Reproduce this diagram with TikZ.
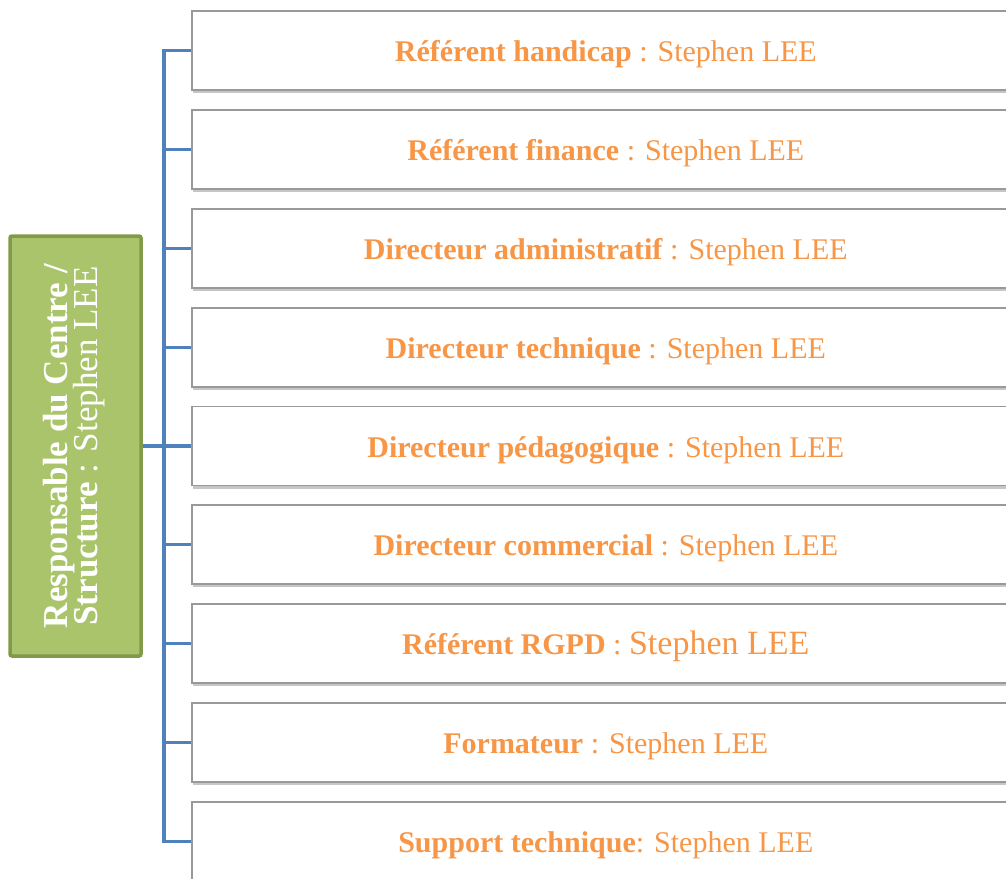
\documentclass[tikz,border=0pt]{standalone}
\usepackage{fontspec}
\setmainfont{Liberation Serif}
\usepackage{tikz}
\usetikzlibrary{shadows}

\definecolor{roleorange}{HTML}{F79646}
\definecolor{linkblue}{HTML}{4F81BD}
\definecolor{headgreen}{HTML}{A9C46B}
\definecolor{headborder}{HTML}{7F9A48}

\begin{document}
\begin{tikzpicture}[x=1pt,y=-1pt,
    role/.style={draw=gray!80, line width=1.6pt, fill=white, anchor=west,
      minimum width=828pt, minimum height=79pt, inner sep=0pt,
      text height=22pt, text depth=0pt,
      text=roleorange, font=\fontsize{30}{33}\selectfont,
      drop shadow={shadow xshift=1pt, shadow yshift=-3pt, opacity=0.45}},
    head/.style={draw=headborder, line width=3.5pt, fill=headgreen,
      rounded corners=2pt, minimum width=131pt, minimum height=420pt,
      inner sep=0pt, text=white, font=\fontsize{35}{35}\selectfont},
    link/.style={draw=linkblue, line width=3.5pt}]
    \path[use as bounding box, clip] (0,0) rectangle (1006,878);

    % the responsible on the left
    \node[head] (head) at (75.5,446) {\rotatebox{90}{\begin{tabular}{@{}c@{}}
      \textbf{Responsable du Centre /}\\[-5pt] \textbf{Structure} : Stephen LEE\end{tabular}}};

    % the roles
    \node[role] (handicap) at (191,50.5) {\textbf{Référent handicap} : Stephen LEE};
    \node[role] (finance) at (191,149.5) {\textbf{Référent finance} : Stephen LEE};
    \node[role] (admin) at (191,248.5) {\textbf{Directeur administratif} : Stephen LEE};
    \node[role] (tech) at (191,347.5) {\textbf{Directeur technique} : Stephen LEE};
    \node[role] (peda) at (191,446) {\textbf{Directeur pédagogique} : Stephen LEE};
    \node[role] (comm) at (191,544.5) {\textbf{Directeur commercial} : Stephen LEE};
    \node[role] (rgpd) at (191,643.5) {\textbf{Référent RGPD} : {\fontsize{34}{36}\selectfont Stephen LEE}};
    \node[role] (form) at (191,742.5) {\textbf{Formateur} : Stephen LEE};
    \node[role] (support) at (191,841.5) {\textbf{Support technique}: Stephen LEE};

    % the connectors
    \coordinate (spine) at (164,0);
    \draw[link] (handicap.west) -| (spine |- support.west) -- (support.west);
    \draw[link] (head.east) -- (head.east -| spine);
    \draw[link] (finance.west) -- (finance.west -| spine);
    \draw[link] (admin.west) -- (admin.west -| spine);
    \draw[link] (tech.west) -- (tech.west -| spine);
    \draw[link] (peda.west) -- (peda.west -| spine);
    \draw[link] (comm.west) -- (comm.west -| spine);
    \draw[link] (rgpd.west) -- (rgpd.west -| spine);
    \draw[link] (form.west) -- (form.west -| spine);
  \end{tikzpicture}
\end{document}
